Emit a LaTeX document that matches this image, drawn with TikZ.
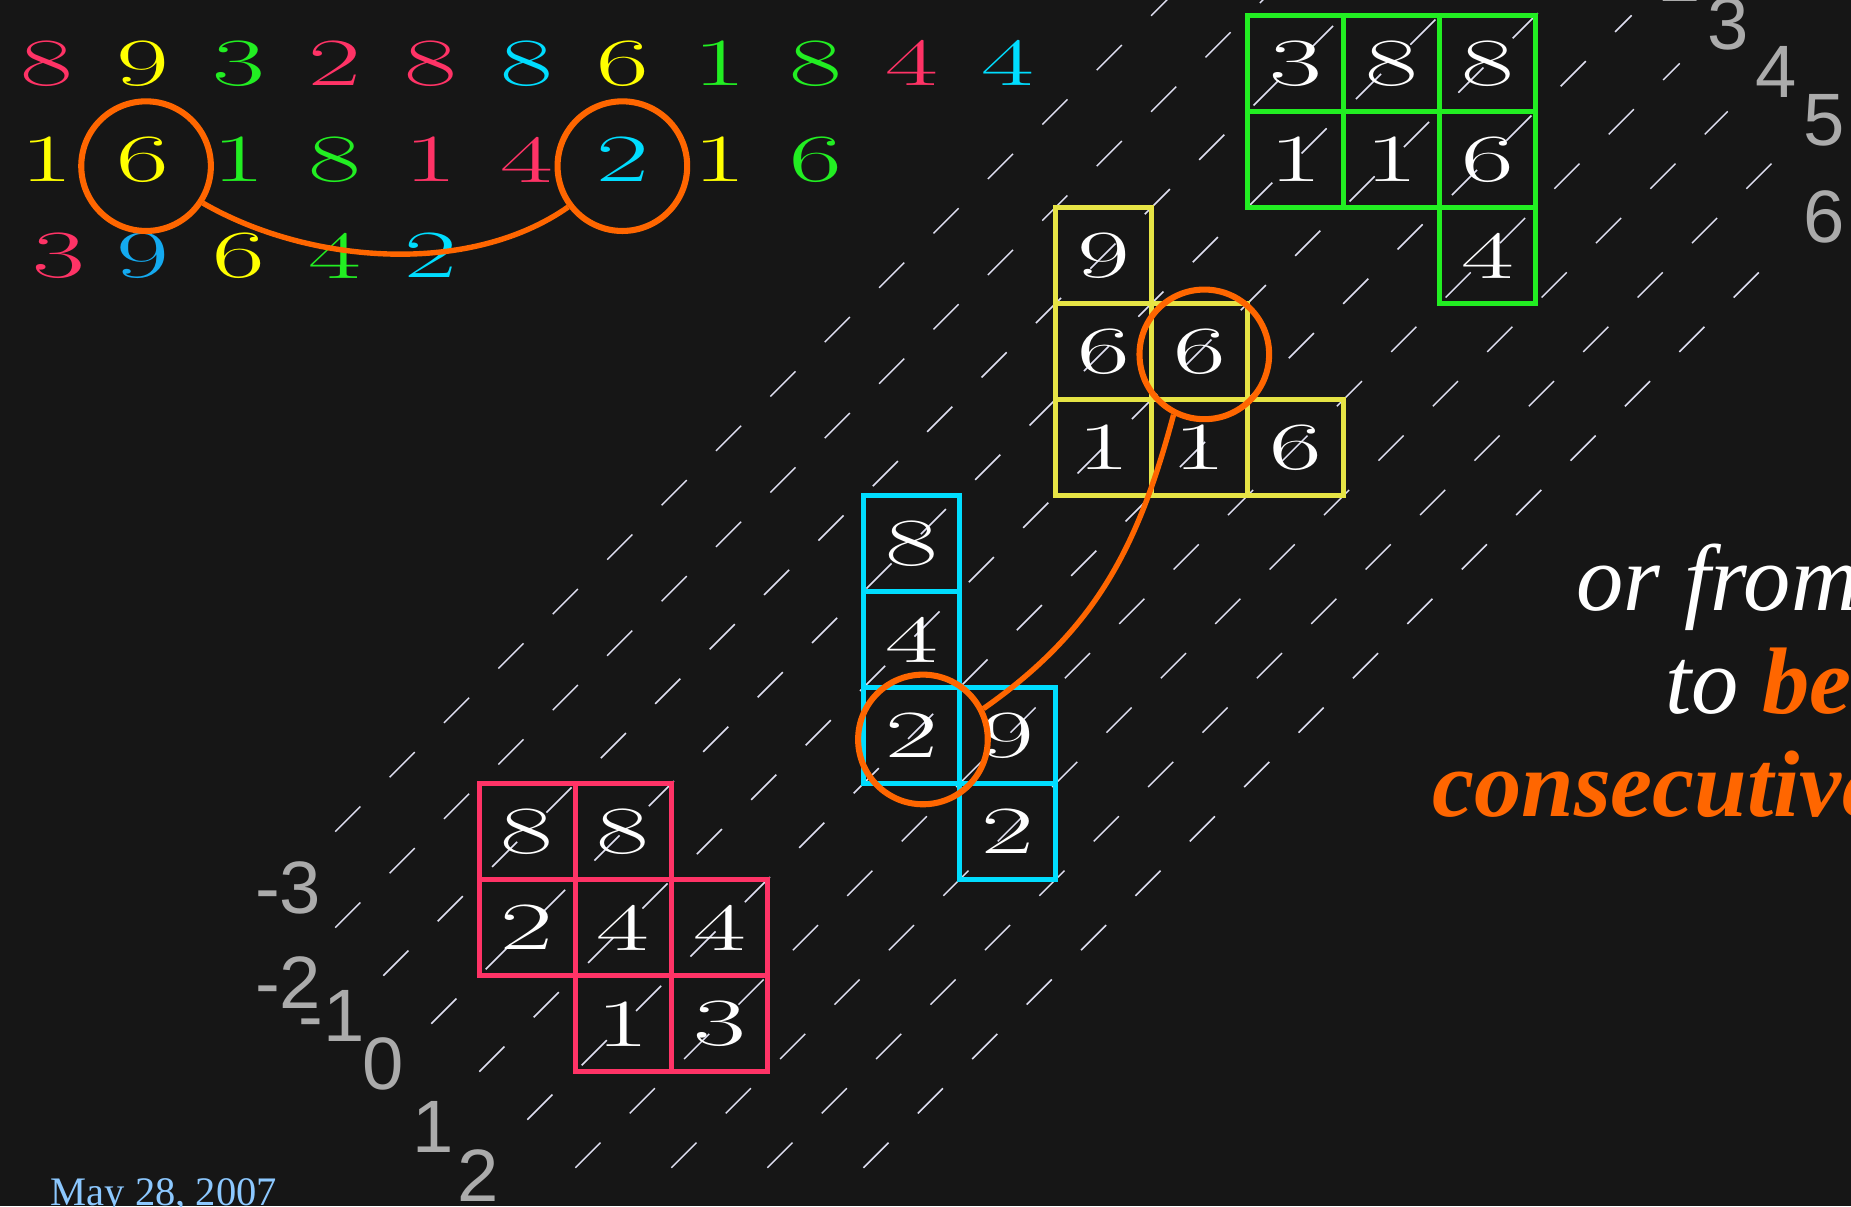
\documentclass[tikz,border=0pt]{standalone}
\usepackage{graphicx}
\usepackage{fontspec}
\newfontfamily\slidefont{Liberation Serif}
\newfontfamily\axisfont{Liberation Sans}
\usepackage{tikz}
\usetikzlibrary{positioning}
\definecolor{slidebg}{HTML}{161616}
\definecolor{hotpink}{HTML}{FF3366}
\definecolor{lemon}{HTML}{FFFF00}
\definecolor{lemonline}{HTML}{E6E445}
\definecolor{lime}{HTML}{22EE22}
\definecolor{aqua}{HTML}{00DDFF}
\definecolor{skyblue}{HTML}{14AAF0}
\definecolor{tangerine}{HTML}{FF6600}
\definecolor{axisgray}{HTML}{ABABAB}
\definecolor{hatchwhite}{HTML}{E0E0F2}
\definecolor{dateblue}{HTML}{8CC8FF}
\newcommand{\widen}[1]{\scalebox{1.7}[1]{#1}}

\begin{document}
\begin{tikzpicture}[
    diag/.style={draw=hatchwhite, line width=0.45pt, dash pattern=on 0.37cm off 0.431cm},
    seq/.style={font=\fontsize{20}{22}\selectfont, inner sep=0pt},
    cell/.style={draw=#1, line width=1.5pt, minimum size=1cm, inner sep=0pt,
                 text=white, font=\fontsize{20}{22}\selectfont},
    ring/.style={circle, draw=tangerine, line width=1.8pt, minimum size=1.35cm, inner sep=0pt},
    link/.style={draw=tangerine, line width=1.6pt},
    axislbl/.style={text=axisgray, font=\axisfont\fontsize{22}{24}\selectfont, inner sep=0pt},
    slidetext/.style={anchor=base west, inner sep=0pt, font=\slidefont\itshape\fontsize{28}{30}\selectfont}
  ]
  \useasboundingbox (-4.991,-12.403) rectangle (14.284,0.160);
  \clip (-4.991,-12.403) rectangle (14.284,0.160);
  \fill[slidebg] (-4.991,-12.403) rectangle (14.284,0.160);

  % Dashed diagonals
  \foreach \k/\s/\e in {7/-1.5/9.5, 8/-1.5/10, 9/-1/10.5, 10/-0.5/11, 11/0/11.5, 12/0.5/12,
                        13/1/12.5, 14/2/13, 15/3/13.5, 16/4/13.5}
    \draw[diag] (\s,\s-\k) -- (\e,\e-\k);

  % Sequence rows
  \foreach \d/\c [count=\n from 0] in {8/hotpink,9/lemon,3/lime,2/hotpink,8/hotpink,8/aqua,6/lemon,1/lime,8/lime,4/hotpink,4/aqua}
    \node[seq, text=\c] (top\n) at (-4.5+\n,-0.5) {\widen{\d}};
  \foreach \d/\c [count=\n from 0] in {1/lemon,6/lemon,1/lime,8/lime,1/hotpink,4/hotpink,2/aqua,1/lemon,6/lime}
    \node[seq, text=\c] (mid\n) at (-4.5+\n,-1.5) {\widen{\d}};
  \node[seq, text=hotpink] (low0) at (-4.38,-2.5) {\widen{3}};
  \foreach \d/\c [count=\n from 1] in {9/skyblue,6/lemon,4/lime,2/aqua}
    \node[seq, text=\c] (low\n) at (-4.5+\n,-2.5) {\widen{\d}};

  % Pink block
  \node[cell=hotpink] (pk1) at (0.5,-8.5) {\widen{8}};
  \node[cell=hotpink] (pk2) at (1.5,-8.5) {\widen{8}};
  \node[cell=hotpink] (pk3) at (0.5,-9.5) {\widen{2}};
  \node[cell=hotpink] (pk4) at (1.5,-9.5) {\widen{4}};
  \node[cell=hotpink] (pk5) at (2.5,-9.5) {\widen{4}};
  \node[cell=hotpink] (pk6) at (1.5,-10.5) {\widen{1}};
  \node[cell=hotpink] (pk7) at (2.5,-10.5) {\widen{3}};

  % Cyan block
  \node[cell=aqua] (cy1) at (4.5,-5.5) {\widen{8}};
  \node[cell=aqua] (cy2) at (4.5,-6.5) {\widen{4}};
  \node[cell=aqua] (cy3) at (4.5,-7.5) {\widen{2}};
  \node[cell=aqua] (cy4) at (5.5,-7.5) {\widen{9}};
  \node[cell=aqua] (cy5) at (5.5,-8.5) {\widen{2}};

  % Yellow block
  \node[cell=lemonline] (ye1) at (6.5,-2.5) {\widen{9}};
  \node[cell=lemonline] (ye2) at (6.5,-3.5) {\widen{6}};
  \node[cell=lemonline] (ye3) at (7.5,-3.5) {\widen{6}};
  \node[cell=lemonline] (ye4) at (6.5,-4.5) {\widen{1}};
  \node[cell=lemonline] (ye5) at (7.5,-4.5) {\widen{1}};
  \node[cell=lemonline] (ye6) at (8.5,-4.5) {\widen{6}};

  % Green block
  \node[cell=lime] (gr1) at (8.5,-0.5) {\widen{3}};
  \node[cell=lime] (gr2) at (9.5,-0.5) {\widen{8}};
  \node[cell=lime] (gr3) at (10.5,-0.5) {\widen{8}};
  \node[cell=lime] (gr4) at (8.5,-1.5) {\widen{1}};
  \node[cell=lime] (gr5) at (9.5,-1.5) {\widen{1}};
  \node[cell=lime] (gr6) at (10.5,-1.5) {\widen{6}};
  \node[cell=lime] (gr7) at (10.5,-2.5) {\widen{4}};

  % Diagonal numbers
  \node[axislbl] (lblm3) at (-1.99,-9.09) {-3};
  \node[axislbl] (lblm2) at (-1.99,-10.07) {-2};
  \node[axislbl] (lblm1) at (-1.54,-10.42) {-1};
  \node[axislbl] (lbl0) at (-1.0,-10.92) {0};
  \node[axislbl] (lbl1) at (-0.48,-11.57) {1};
  \node[axislbl] (lbl2a) at (-0.01,-12.08) {2};
  \node[axislbl] (lbl2b) at (12.5,0.41) {2};
  \node[axislbl] (lbl3) at (13.0,-0.09) {3};
  \node[axislbl] (lbl4) at (13.5,-0.59) {4};
  \node[axislbl] (lbl5) at (14.0,-1.09) {5};
  \node[axislbl] (lbl6) at (14.0,-2.10) {6};

  % Right-hand text
  \node[slidetext, text=white] (lineA) at (11.42,-6.192) {or from};
  \node[slidetext, text=white] (lineB) at (12.342,-7.265) {to {\bfseries\color{tangerine}bel}};
  \node[slidetext, text=tangerine, font=\slidefont\bfseries\itshape\fontsize{28}{30}\selectfont] (lineC) at (9.918,-8.344) {consecutive};
  \node[anchor=base west, inner sep=0pt, text=dateblue, font=\slidefont\fontsize{12}{14}\selectfont] (datestamp) at (-4.47,-12.39) {May 28, 2007};

  % Circled pairs
  \node[ring] (ringA) at (-3.47,-1.57) {};
  \node[ring] (ringB) at (1.49,-1.57) {};
  \node[ring] (ringC) at (7.55,-3.53) {};
  \node[ring] (ringD) at (4.62,-7.54) {};
  \draw[link] (ringA.-33) to[out=-30,in=-145,looseness=0.85] (ringB.-143);
  \draw[link] (ringD.27) to[out=35,in=-105] (ringC.-117);
\end{tikzpicture}
\end{document}
